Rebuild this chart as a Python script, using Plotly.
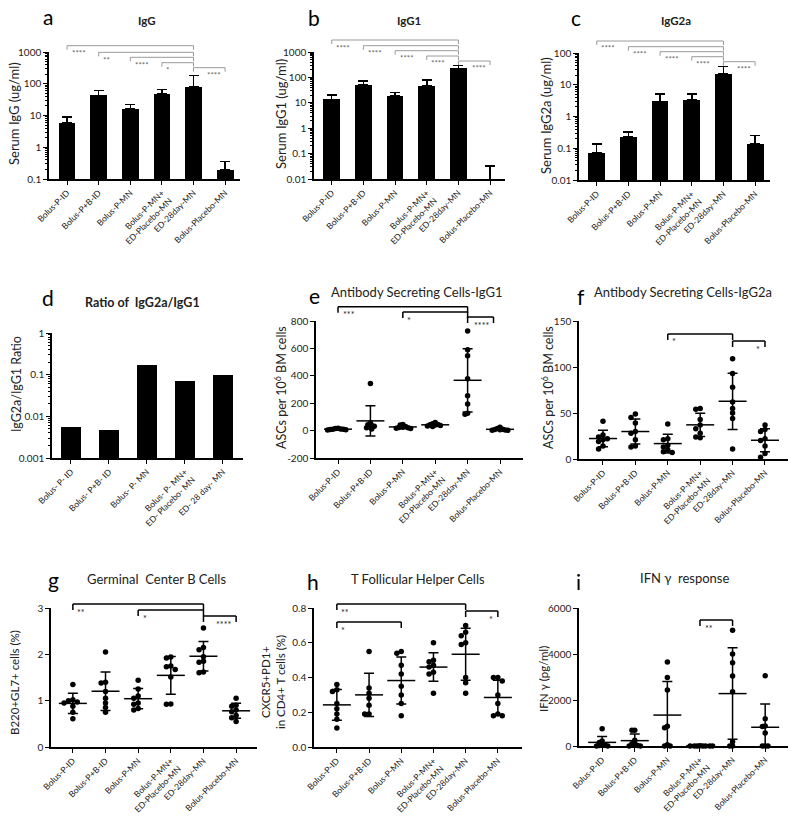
import numpy as np
import plotly.graph_objects as go

FONT = "Lato, 'Open Sans', sans-serif"
W, H = 800, 823

# ---------------- data ----------------
CATS = ["Bolus-P-ID", "Bolus-P+B-ID", "Bolus-P-MN", "Bolus-P-MN+<br>ED-Placebo-MN",
        "ED-28day-MN", "Bolus-Placebo-MN"]
CATS_D = ["Bolus- P- ID", "Bolus- P+B- ID", "Bolus- P- MN", "Bolus- P- MN+<br>ED- Placebo- MN",
          "ED- 28 day- MN"]

IGG_MEAN = [6.0, 43, 16, 47, 80, 0.19]
IGG_UPPER = [8.9, 62, 22, 65, 180, 0.35]
IGG1_MEAN = [13.5, 50, 19, 47, 226, 0.005]
IGG1_UPPER = [20, 72, 25, 78, 290, 0.033]
IGG2A_MEAN = [0.073, 0.23, 3.0, 3.4, 22, 0.134]
IGG2A_UPPER = [0.137, 0.33, 5.1, 5.1, 38, 0.25]
RATIO = [0.0055, 0.0046, 0.17, 0.07, 0.1]

ASC_IGG1 = [
    [18, 15, 12, 10, 10, 8, 6, 5],
    [343, 55, 43, 31, 20, 12, 26, 38],
    [45, 40, 30, 25, 22, 20, 18, 15],
    [60, 50, 45, 42, 40, 38, 33, 30],
    [727, 590, 547, 379, 254, 194, 127, 120],
    [25, 15, 10, 8, 6, 5, 3, 2],
]
ASC_IGG2A = [
    [41, 26, 24, 22, 21, 19, 14, 11],
    [49, 45, 39, 30, 28, 21, 14, 13],
    [38, 22, 21, 15, 13, 10, 8, 7],
    [55, 54, 43, 37, 33, 28, 24, 23],
    [109, 93, 78, 62, 55, 50, 44, 11],
    [37, 32, 30, 22, 20, 14, 6, 2],
]
GC_B = [
    [1.35, 1.02, 1.0, 0.97, 0.95, 0.88, 0.75, 0.61],
    [2.05, 1.4, 1.38, 1.2, 1.05, 0.95, 0.85, 0.75],
    [1.44, 1.25, 1.1, 1.05, 0.95, 0.92, 0.83, 0.8],
    [1.94, 1.92, 1.75, 1.73, 1.67, 1.51, 0.93, 0.92],
    [2.57, 2.15, 2.1, 1.95, 1.85, 1.83, 1.62, 1.6],
    [1.05, 0.9, 0.88, 0.8, 0.76, 0.68, 0.63, 0.55],
]
TFH = [
    [0.36, 0.33, 0.32, 0.25, 0.22, 0.19, 0.16, 0.11],
    [0.55, 0.34, 0.31, 0.28, 0.24, 0.19, 0.19],
    [0.55, 0.54, 0.47, 0.42, 0.35, 0.30, 0.25, 0.18],
    [0.60, 0.50, 0.49, 0.47, 0.46, 0.43, 0.42, 0.31],
    [0.70, 0.66, 0.64, 0.60, 0.59, 0.40, 0.37, 0.31],
    [0.40, 0.40, 0.38, 0.30, 0.25, 0.19, 0.18, 0.18],
]
IFNG = [
    [750, 220, 150, 80, 40, 20, 0, 0],
    [690, 680, 250, 120, 100, 20, 0, 0],
    [3650, 2980, 2430, 860, 790, 50, 0, 0],
    [10, 0, 0, 0, 0, 0, 0, 0],
    [5030, 4000, 3620, 3040, 2360, 180, 0, 0],
    [3050, 1180, 870, 850, 570, 0, 0, 0],
]

# significance brackets: (left cat, right cat, y pixel, label, label side)
SIG_A = [(0, 4, 45.7, "****", "l"), (1, 4, 52.3, "**", "l"), (2, 4, 57.3, "****", "l"),
         (3, 4, 62.7, "*", "l"), (4, 5, 67.7, "****", "r")]
SIG_B = [(0, 4, 40, "****", "l"), (1, 4, 45.7, "****", "l"), (2, 4, 50.7, "****", "l"),
         (3, 4, 56, "****", "l"), (4, 5, 61, "****", "r")]
SIG_C = [(0, 4, 41, "****", "l"), (1, 4, 46.7, "****", "l"), (2, 4, 51.7, "****", "l"),
         (3, 4, 56.7, "****", "l"), (4, 5, 61.7, "****", "r")]
SIG_E = [(0, 4, 306.7, "***", "l"), (2, 4, 312, "*", "l"), (4, 4.8, 317, "****", "r")]
SIG_F = [(2, 4, 334, "*", "l"), (4, 5, 341, "*", "r")]
SIG_G = [(0, 4, 604, "**", "l"), (2, 4, 610, "*", "l"), (4, 5, 616, "****", "r")]
SIG_H = [(0, 4, 604, "**", "l"), (0, 2, 622, "*", "l"), (4, 5, 611, "*", "r")]
SIG_I = [(3, 4, 620, "**", "l")]

fig = go.Figure()
layout = {}
shapes = []
annos = []

AX_COMMON = dict(showline=True, linecolor="black", linewidth=1.5, ticks="outside", ticklen=4,
                 tickwidth=1.2, tickcolor="black", showgrid=False, zeroline=False,
                 automargin=False,
                 tickfont=dict(family=FONT, size=10, color="#222"))


def ax_names(n):
    s = "" if n == 1 else str(n)
    return "x" + s, "y" + s, "xaxis" + s, "yaxis" + s


def set_axes(n, box, xr, ticktext, ytype, yr, ytickvals, yticktext, minor=False):
    xn, yn, xk, yk = ax_names(n)
    xd = [box[0] / W, box[1] / W]
    yd = [1 - box[3] / H, 1 - box[2] / H]
    xa = dict(AX_COMMON)
    xa.update(domain=xd, range=xr, anchor=yn, tickmode="array", tickvals=list(range(len(ticktext))),
              ticktext=ticktext, tickangle=-45,
              tickfont=dict(family=FONT, size=8.5, color="#222"))
    ya = dict(AX_COMMON)
    ya.update(domain=yd, range=yr, type=ytype, anchor=xn, tickmode="array",
              tickvals=ytickvals, ticktext=yticktext)
    if minor:
        ya["minor"] = dict(ticks="outside", ticklen=2, tickwidth=1, tickcolor="black", dtick="D1")
    layout[xk] = xa
    layout[yk] = ya


def swarm(vals, ypu, xpu, d=4.4):
    step = d / 2.0
    vals = np.asarray(vals, float)
    order = np.argsort(-vals, kind="stable")
    placed = []
    offs = np.zeros(len(vals))
    for i in order:
        y = vals[i] * ypu
        k = 0
        found = None
        while found is None:
            cands = [0.0] if k == 0 else ([k * step, -k * step] if k % 2 else [-k * step, k * step])
            for c in cands:
                if all((c - px) ** 2 + (y - py) ** 2 >= d * d for px, py in placed):
                    found = c
                    break
            k += 1
        placed.append((found, y))
        offs[i] = found / xpu
    return offs


def bar_panel(n, means, uppers=None, width=0.53):
    xn, yn, _, _ = ax_names(n)
    kw = {}
    if uppers is not None:
        kw["error_y"] = dict(type="data", symmetric=False,
                             array=[u - m for u, m in zip(uppers, means)],
                             arrayminus=[0] * len(means), color="black", thickness=1.5, width=5)
    fig.add_trace(go.Bar(x=list(range(len(means))), y=means, width=width,
                         marker=dict(color="black", line=dict(width=0)),
                         xaxis=xn, yaxis=yn, showlegend=False, **kw))


def scatter_panel(n, groups, box, xr, yr, d=4.4):
    xn, yn, _, _ = ax_names(n)
    xpu = (box[1] - box[0]) / (xr[1] - xr[0])
    ypu = (box[3] - box[2]) / (yr[1] - yr[0])
    xs, ys = [], []
    for gi, vals in enumerate(groups):
        offs = swarm(vals, ypu, xpu, d)
        xs += [gi + o for o in offs]
        ys += list(vals)
    fig.add_trace(go.Scatter(x=xs, y=ys, mode="markers", cliponaxis=False,
                             marker=dict(color="black", size=5.5),
                             xaxis=xn, yaxis=yn, showlegend=False))
    means = [float(np.mean(v)) for v in groups]
    sds = [float(np.std(v, ddof=1)) for v in groups]
    fig.add_trace(go.Scatter(x=list(range(len(groups))), y=means, mode="markers",
                             marker=dict(symbol="line-ew-open", size=20, color="black",
                                         line=dict(width=1.5, color="black")),
                             error_y=dict(type="data", array=sds, color="black",
                                          thickness=1.5, width=5),
                             xaxis=xn, yaxis=yn, showlegend=False))


def brackets(n, sig, color, lw, tick, star_color, star_size=9):
    xn = ax_names(n)[0]
    for (a, b, ypx, lab, side) in sig:
        yp = 1 - ypx / H
        yt = 1 - (ypx + tick) / H
        ln = dict(color=color, width=lw)
        shapes.append(dict(type="line", xref=xn, yref="paper", x0=a, x1=b, y0=yp, y1=yp, line=ln))
        shapes.append(dict(type="line", xref=xn, yref="paper", x0=a, x1=a, y0=yp, y1=yt, line=ln))
        shapes.append(dict(type="line", xref=xn, yref="paper", x0=b, x1=b, y0=yp, y1=yt, line=ln))
        if side == "l":
            ax, xa = a + 0.08, "left"
        else:
            ax, xa = b - 0.08, "right"
        annos.append(dict(text=lab, xref=xn, yref="paper", x=ax, y=1 - (ypx + 0.5) / H,
                          xanchor=xa, yanchor="top", showarrow=False,
                          font=dict(family=FONT, size=star_size, color=star_color)))


def text(x, y, s, size, bold=False, angle=0, color="#222"):
    if bold:
        s = "<b>" + s + "</b>"
    annos.append(dict(text=s, xref="paper", yref="paper", x=x / W, y=1 - y / H,
                      xanchor="center", yanchor="middle", showarrow=False, textangle=angle,
                      font=dict(family=FONT, size=size, color=color)))


def logticks(lo, hi):
    vals = [10.0 ** k for k in range(lo, hi + 1)]
    labs = [("%g" % v) for v in vals]
    return vals, labs


# ---------- a ----------
set_axes(1, (49, 240, 52, 179), [-0.57, 5.47], CATS, "log", [-1, 3], *logticks(-1, 3), minor=True)
bar_panel(1, IGG_MEAN, IGG_UPPER)
brackets(1, SIG_A, "#9a9a9a", 1, 4, "#666", 8)
# ---------- b ----------
set_axes(2, (314, 505, 52, 179), [-0.56, 5.47], CATS, "log", [-2, 3], *logticks(-2, 3), minor=True)
bar_panel(2, IGG1_MEAN, IGG1_UPPER)
brackets(2, SIG_B, "#9a9a9a", 1, 4, "#666", 8)
# ---------- c ----------
set_axes(3, (579, 770, 53, 180), [-0.56, 5.47], CATS, "log", [-2, 2], *logticks(-2, 2), minor=True)
bar_panel(3, IGG2A_MEAN, IGG2A_UPPER)
brackets(3, SIG_C, "#9a9a9a", 1, 4, "#666", 8)
# ---------- d ----------
set_axes(4, (52, 243, 333, 458), [-0.5, 4.53], CATS_D, "log", [-3, 0], *logticks(-3, 0), minor=True)
bar_panel(4, RATIO, None, width=0.54)
# ---------- e ----------
box_e = (316, 523, 321, 458)
set_axes(5, box_e, [-0.68, 5.71], CATS, "linear", [-200, 800],
         [-200, 0, 200, 400, 600, 800], ["-200", "0", "200", "400", "600", "800"])
scatter_panel(5, ASC_IGG1, box_e, [-0.68, 5.71], [-200, 800], d=2.6)
brackets(5, SIG_E, "black", 1.5, 6, "#222")
# ---------- f ----------
box_f = (579, 788, 321, 459)
set_axes(6, box_f, [-0.74, 5.71], CATS, "linear", [0, 150],
         [0, 50, 100, 150], ["0", "50", "100", "150"])
scatter_panel(6, ASC_IGG2A, box_f, [-0.74, 5.71], [0, 150])
brackets(6, SIG_F, "black", 1.5, 6, "#222")
# ---------- g ----------
box_g = (51, 257, 608, 747)
set_axes(7, box_g, [-0.67, 5.64], CATS, "linear", [0, 3], [0, 1, 2, 3], ["0", "1", "2", "3"])
scatter_panel(7, GC_B, box_g, [-0.67, 5.64], [0, 3])
brackets(7, SIG_G, "black", 1.5, 6, "#222")
# ---------- h ----------
box_h = (314, 522, 608, 747)
set_axes(8, box_h, [-0.71, 5.75], CATS, "linear", [0, 0.8],
         [0, 0.2, 0.4, 0.6, 0.8], ["0.0", "0.2", "0.4", "0.6", "0.8"])
scatter_panel(8, TFH, box_h, [-0.71, 5.75], [0, 0.8])
brackets(8, SIG_H, "black", 1.5, 6, "#222")
# ---------- i ----------
box_i = (579, 788, 608, 746)
set_axes(9, box_i, [-0.71, 5.7], CATS, "linear", [0, 6000],
         [0, 2000, 4000, 6000], ["0", "2000", "4000", "6000"])
scatter_panel(9, IFNG, box_i, [-0.71, 5.7], [0, 6000], d=2.8)
brackets(9, SIG_I, "black", 1.5, 6, "#222")

# ---------- panel letters ----------
for (x, y, s) in [(48, 16, "a"), (314, 17, "b"), (576, 17, "c"), (48, 297, "d"), (314, 295, "e"),
                  (581, 296, "f"), (53, 579, "g"), (313, 581, "h"), (578, 581, "i")]:
    text(x, y, s, 21, color="black")

# ---------- titles ----------
text(147, 21, "IgG", 11.5, bold=True)
text(409, 21, "IgG1", 11.5, bold=True)
text(676, 21, "IgG2a", 11.5, bold=True)
text(142, 302, "Ratio of  IgG2a/IgG1", 12.5, bold=True)
text(416, 292, "Antibody Secreting Cells-IgG1", 13)
text(683, 292, "Antibody Secreting Cells-IgG2a", 13)
text(156, 579, "Germinal  Center B Cells", 13)
text(418, 579, "T Follicular Helper Cells", 13)
text(684, 578, "IFN \u03b3  response", 13)

# ---------- y-axis titles ----------
text(14, 114, "Serum IgG (ug/ml)", 13, angle=-90)
text(281, 114, "Serum IgG1 (ug/ml)", 13, angle=-90)
text(546, 116, "Serum IgG2a (ug/ml)", 13, angle=-90)
text(16, 384, "IgG2a/IgG1 Ratio", 12.5, angle=-90)
text(280, 388, "ASCs per 10<sup>6</sup> BM cells", 12.5, angle=-90)
text(547, 388, "ASCs per 10<sup>6</sup> BM cells", 12.5, angle=-90)
text(14, 683, "B220+GL7+ cells (%)", 11.5, angle=-90)
text(273, 682, "CXCR5+PD1+<br>in CD4+ T cells (%)", 11.5, angle=-90)
text(543, 679, "IFN \u03b3 (pg/ml)", 11.5, angle=-90)

fig.update_layout(width=W, height=H, margin=dict(l=0, r=0, t=0, b=0, autoexpand=False),
                  paper_bgcolor="white", plot_bgcolor="white", showlegend=False,
                  font=dict(family=FONT, color="#222"),
                  shapes=shapes, annotations=annos, bargap=0, **layout)
fig.write_html("out.html", config={"displayModeBar": False},
               post_script="document.body.style.margin='0';document.body.style.overflow='hidden';")
